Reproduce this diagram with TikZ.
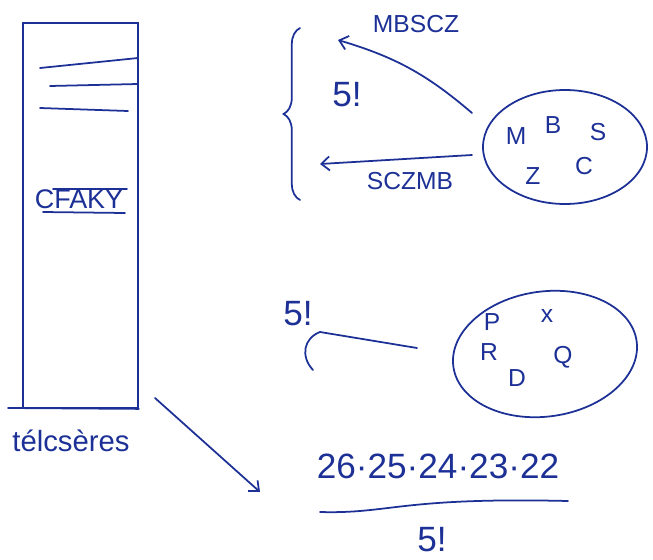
\documentclass[tikz,border=0pt]{standalone}
\usepackage{fontspec}
\setmainfont{Liberation Sans}
\usetikzlibrary{shapes.geometric, decorations.pathreplacing, arrows.meta}
\definecolor{ink}{RGB}{28,48,150}

\begin{document}
\begin{tikzpicture}[x=0.03cm, y=-0.03cm, >={Straight Barb[length=7pt,width=12pt]},
    ink, line width=1.5pt, line cap=round,
    lbl/.style={font=\fontsize{21}{24}\selectfont, inner sep=0pt},
    big/.style={font=\fontsize{30}{34}\selectfont, inner sep=0pt},
    set/.style={draw, ellipse, inner sep=0pt}]
    \useasboundingbox (0,0) rectangle (653,559);

    % the tall list
    \node[draw, minimum width=3.45cm, minimum height=11.55cm, inner sep=0pt] (list) at (80.5,215.5) {};
    \coordinate (base) at (8,408);
    \draw (base) -- (list.south east);
    \draw (40,68) -- (138,58);
    \draw (50,86) -- (138,84);
    \draw (40,108) -- (128,111);
    \node[lbl, font=\fontsize{23}{26}\selectfont] (word) at (79,199) {CFAKY};
    \draw (53,189) -- (127,189);
    \draw (43,212) -- (125,213);
    \node[lbl, font=\fontsize{25}{28}\selectfont] (title) at (71,441) {télcsères};

    % five letters, all orders
    \node[set, minimum width=4.92cm, minimum height=3.42cm] (set1) at (565,147) {};
    \node[lbl] (m1) at (516,136) {M};
    \node[lbl] (b1) at (553,125) {B};
    \node[lbl] (s1) at (598,132) {S};
    \node[lbl] (z1) at (533,176) {Z};
    \node[lbl] (c1) at (584,166) {C};
    \coordinate (from1) at (472,113);
    \coordinate (to1) at (338,40);
    \coordinate (from2) at (472,155);
    \coordinate (to2) at (320,164);
    \draw[->] (from1) to[bend right=12] (to1);
    \draw[->] (from2) -- (to2);
    \node[lbl] (perm1) at (416,24) {MBSCZ};
    \node[lbl] (perm2) at (410,181) {SCZMB};
    \draw[decorate, decoration={brace, amplitude=14pt}] (300,200) -- (300,28);
    \node[big] (fact1) at (347,95) {5!};

    % five other letters
    \node[set, rotate=8, minimum width=5.55cm, minimum height=3.75cm] (set2) at (545,354) {};
    \node[lbl] (p2) at (492,322) {P};
    \node[lbl] (x2) at (547,316) {x};
    \node[lbl] (r2) at (489,352) {R};
    \node[lbl] (q2) at (563,357) {Q};
    \node[lbl] (d2) at (517,378) {D};
    \node[big] (fact2) at (298,314) {5!};
    \coordinate (curl) at (320,332);
    \coordinate (tip) at (417,348);
    \draw (curl) .. controls (304,338) and (300,356) .. (313,370);
    \draw (curl) -- (tip);

    % the count
    \coordinate (tail) at (155,398);
    \coordinate (head) at (260,492);
    \draw[->] (tail) -- (head);
    \node[big] (num) at (438,466) {26·25·24·23·22};
    \coordinate (bar1) at (320,512);
    \coordinate (bar2) at (568,501);
    \draw (bar1) .. controls (390,514) and (400,497) .. (bar2);
    \node[big] (den) at (432,540) {5!};
\end{tikzpicture}
\end{document}
